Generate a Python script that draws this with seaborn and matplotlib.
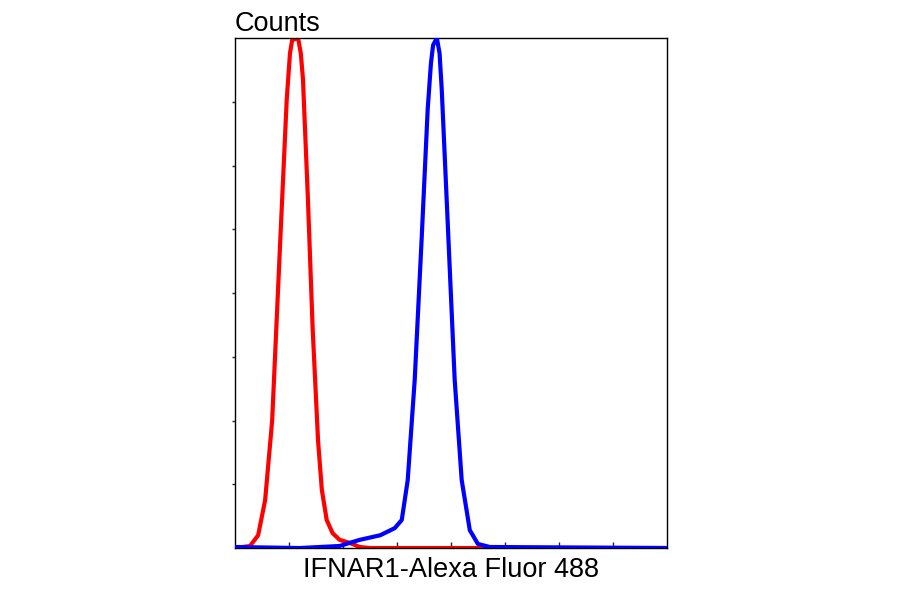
import matplotlib
matplotlib.use("Agg")
import matplotlib.pyplot as plt
import seaborn as sns
import pandas as pd

red_x = [0,0.28,0.43,0.56,0.69,0.83,0.96,1.02,1.06,1.17,1.22,1.26,1.35,1.44,1.54,1.61,1.70,1.81,1.94,2.13,2.31,2.50,8.0]
red_y = [0,0.4,2.5,9.4,25,58,88,97,99.6,100,97,92,69,43,21,11.4,5.5,2.9,1.6,1.0,0.2,0,0]
blue_x = [0,1.20,1.94,2.31,2.69,2.96,3.09,3.20,3.33,3.46,3.57,3.63,3.67,3.74,3.79,3.83,3.94,4.07,4.20,4.35,4.50,4.72,8.0]
blue_y = [0.2,0,0.4,1.6,2.5,3.9,5.5,13.3,33,61,86,95,98.6,100,97,90,64,33,13.3,3.5,0.8,0.2,0]

sns.set_style("white")
plt.rcParams['font.family'] = ['Liberation Sans', 'DejaVu Sans']
fig = plt.figure(figsize=(9, 5.94), dpi=100)
ax = fig.add_axes([0.261, 0.0774, 0.48, 0.8586])
df_r = pd.DataFrame({"x": red_x, "y": red_y})
df_b = pd.DataFrame({"x": blue_x, "y": blue_y})
sns.lineplot(data=df_r, x="x", y="y", ax=ax, color="#ff0000", linewidth=3, zorder=2)
sns.lineplot(data=df_b, x="x", y="y", ax=ax, color="#0000ff", linewidth=3, zorder=3)
ax.set_xlim(0, 8)
ax.set_ylim(0, 100)
ax.set_xticks([1, 2, 3, 4, 5, 6, 7])
ax.set_yticks([12.5*i for i in range(1, 8)])
ax.set_xticklabels([]); ax.set_yticklabels([])
ax.tick_params(axis='x', direction='in', length=4, width=1, bottom=True)
ax.tick_params(axis='y', direction='out', length=2, width=1, left=True)
for s in ax.spines.values():
    s.set_color("black"); s.set_linewidth(1)
ax.set_xlabel("IFNAR1-Alexa Fluor 488", fontsize=19.5, labelpad=3, color="black")
ax.set_ylabel("")
fig.text(0.261, 0.938, "Counts", fontsize=19.5, ha="left", va="bottom", color="black")
fig.savefig("out.png", dpi=100)
